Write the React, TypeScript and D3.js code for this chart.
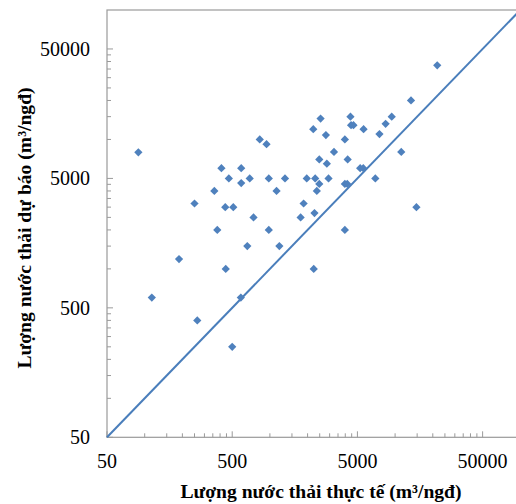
import React from 'react';
import * as d3 from 'd3';

// Lượng nước thải thực tế (x) vs dự báo (y), m3/ngđ
const actual = [
  89, 410, 590, 470, 690, 590, 360, 250, 440, 510,
  740, 380, 660, 830, 940, 21700, 13400, 9400, 8400, 7500,
  5600, 4400, 4450, 4650, 2540, 2220, 2800, 3970, 3250, 2480,
  4180, 2850, 11200, 5260, 5570, 980, 1320, 1970, 2300, 2940,
  6950, 2480, 3970, 4150, 1130, 2370, 1860, 14800, 1760, 2270,
  980, 3970, 1190, 188, 444, 2240, 114, 586, 263, 500,
];
const predicted = [
  7950, 6000, 6000, 5000, 5000, 4600, 4000, 3200, 3000, 3000,
  2500, 2000, 1500, 10000, 9200, 37400, 20000, 15000, 13200, 11000,
  12000, 15000, 12900, 12900, 14500, 12000, 10800, 10000, 8000, 7000,
  7000, 6500, 8000, 6000, 6000, 5000, 5000, 5000, 5000, 5000,
  5000, 4530, 4530, 4530, 4000, 4000, 3200, 3000, 2500, 2700,
  2000, 2000, 1500, 1190, 1000, 1000, 600, 600, 400, 250,
];
const majorTicks = [50, 500, 5000, 50000];
const tickLabels = ['50', '500', '5000', '50000'];
const xTitle = 'Lượng nước thải thực tế (m³/ngđ)';
const yTitle = 'Lượng nước thải dự báo (m³/ngđ)';

export default function App() {
  const W = 516, H = 504;
  const left = 107, right = 520.3, top = 10, bottom = 437.3;
  const x = d3.scaleLog().domain([50, 100000]).range([left, right]);
  const y = d3.scaleLog().domain([50, 100000]).range([bottom, top]);
  const minor: number[] = [];
  majorTicks.forEach((b) => {
    for (let k = 2; k <= 9; k++) if (b * k < 100000) minor.push(b * k);
  });
  const diamond = d3.symbol(d3.symbolSquare, 34)() as string;
  const axisColor = '#9a9a9a';
  const font = '"Liberation Serif", "Times New Roman", serif';
  return (
    <svg width={W} height={H} style={{ position: 'absolute', left: 0, top: 0, background: '#fff' }}>
      <rect x={0} y={0} width={W} height={H} fill="#fff" />
      {/* plot frame */}
      <rect x={left} y={top} width={right - left} height={bottom - top} fill="none" stroke={axisColor} strokeWidth={1.2} />
      {/* minor ticks */}
      {minor.map((v) => (
        <g key={'m' + v}>
          <line x1={x(v)} x2={x(v)} y1={bottom} y2={bottom - 4} stroke={axisColor} />
          <line x1={left} x2={left + 4} y1={y(v)} y2={y(v)} stroke={axisColor} />
        </g>
      ))}
      {/* major ticks + labels */}
      {majorTicks.map((v, i) => (
        <g key={'M' + v}>
          <line x1={x(v)} x2={x(v)} y1={bottom} y2={bottom - 6} stroke={axisColor} />
          <line x1={left} x2={left + 6} y1={y(v)} y2={y(v)} stroke={axisColor} />
          <text x={x(v)} y={468.3} textAnchor="middle" fontFamily={font} fontSize={20} fill="#000">
            {tickLabels[i]}
          </text>
          <text x={90} y={y(v)} dy="0.35em" textAnchor="end" fontFamily={font} fontSize={20} fill="#000">
            {tickLabels[i]}
          </text>
        </g>
      ))}
      {/* 1:1 line */}
      <line x1={x(50)} y1={y(50)} x2={x(100000)} y2={y(100000)} stroke="#4a7ebb" strokeWidth={2} />
      {/* points */}
      {actual.map((a, i) => (
        <path
          key={i}
          d={diamond}
          transform={`translate(${x(a)},${y(predicted[i])}) rotate(45)`}
          fill="#4f81bd"
        />
      ))}
      <text x={321} y={498} textAnchor="middle" fontFamily={font} fontWeight="bold" fontSize={19.6} fill="#000">
        {xTitle}
      </text>
      <text transform="translate(31,228) rotate(-90)" textAnchor="middle" fontFamily={font} fontWeight="bold" fontSize={19.6} fill="#000">
        {yTitle}
      </text>
    </svg>
  );
}
